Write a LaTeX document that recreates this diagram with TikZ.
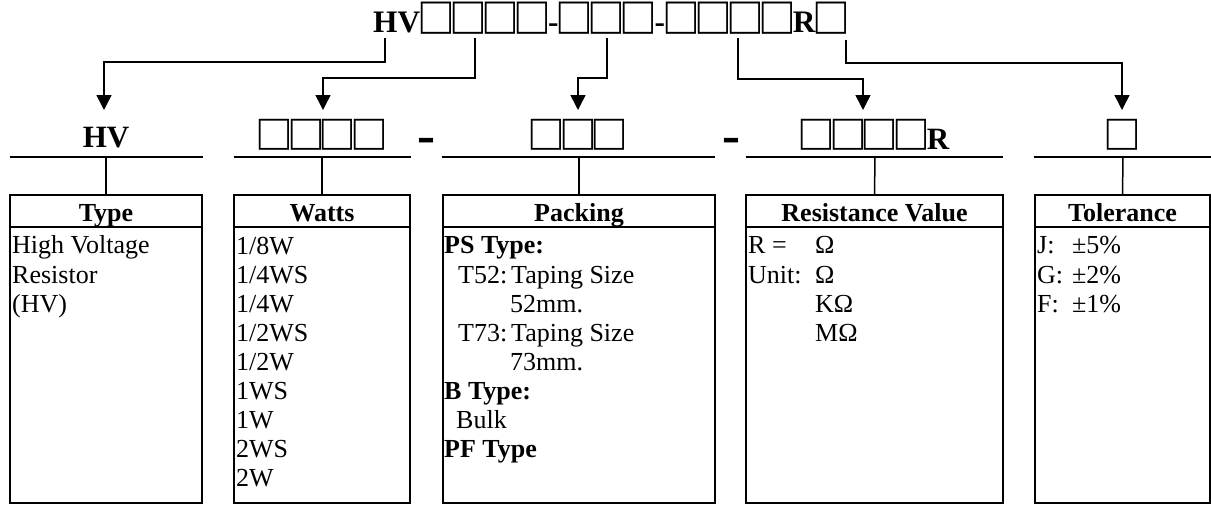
\documentclass[tikz,border=0pt]{standalone}
\usepackage{fontspec}
\setmainfont{Liberation Serif}
\newfontfamily\cjk{Noto Sans CJK SC}
\newfontfamily\dvs{DejaVu Sans}
\usetikzlibrary{arrows.meta}
\newcommand\sqg{\makebox[32pt]{\raisebox{-1pt}{\scalebox{1.18}[1.26]{\fontsize{32}{32}\selectfont\cjk □}}}}
\newcommand\sqgs{\makebox[31.5pt]{\scalebox{1.18}[1.21]{\fontsize{32}{32}\selectfont\cjk □}}}
\tikzset{
  conn/.style={line width=1.5pt,-{Triangle[width=15pt,length=15pt]}},
  stub/.style={line width=1.5pt},
  rule/.style={line width=2pt},
  hdr/.style={draw,line width=2pt,outer sep=0pt,inner sep=0pt,minimum height=32pt,
    text height=24pt,text depth=4pt,font=\fontsize{26}{29}\selectfont\bfseries},
  bodybox/.style={draw,line width=2pt,outer sep=0pt,inner sep=0pt,minimum height=276pt,anchor=north},
  txt/.style={inner sep=0pt,anchor=base west,font=\fontsize{26}{29}\selectfont},
  lab/.style={inner sep=0pt,anchor=base,font=\fontsize{31}{34}\selectfont\bfseries},
  dashlab/.style={inner sep=0pt,anchor=base,font=\fontsize{36}{36}\selectfont\dvs\bfseries},
}
\begin{document}
\begin{tikzpicture}[x=1pt,y=-1pt]
\useasboundingbox (0,0) rectangle (1211,504);
% title
\node[inner sep=0pt,anchor=base west,font=\fontsize{31.3}{34}\selectfont\bfseries] (title) at (373,32)
  {HV\sqg\sqg\sqg\sqg-\sqg\sqg\sqg-\sqg\sqg\sqg\sqg R\sqg};
% connector starts
\coordinate (c1) at (385,38);
\coordinate (c2) at (475,38);
\coordinate (c3) at (607,38);
\coordinate (c4) at (738,38);
\coordinate (c5) at (846,40);
% arrow tips
\coordinate (t1) at (104,110);
\coordinate (t2) at (323,110);
\coordinate (t3) at (578,110);
\coordinate (t4) at (863,110);
\coordinate (t5) at (1122,110);
\draw[conn] (c1) -- ++(0,24) -| (t1);
\draw[conn] (c2) -- ++(0,40) -| (t2);
\draw[conn] (c3) -- ++(0,40) -| (t3);
\draw[conn] (c4) -- ++(0,41) -| (t4);
\draw[conn] (c5) -- ++(0,23) -| (t5);
% second row labels
\node[lab] (l1) at (106,147) {HV};
\node[lab] (l2) at (322,149) {\sqgs\sqgs\sqgs\sqgs};
\node[dashlab] (d1) at (426,150) {–};
\node[lab] (l3) at (578,149) {\sqgs\sqgs\sqgs};
\node[dashlab] (d2) at (731,150) {–};
\node[lab] (l4) at (875,149) {\sqgs\sqgs\sqgs\sqgs R};
\node[lab] (l5) at (1122,149) {\sqgs};
% rules
\draw[rule] (10,157) coordinate (r1a) -- (203,157) coordinate (r1b);
\draw[rule] (234,157) coordinate (r2a) -- (411,157) coordinate (r2b);
\draw[rule] (442,157) coordinate (r3a) -- (715,157) coordinate (r3b);
\draw[rule] (746,157) coordinate (r4a) -- (1003,157) coordinate (r4b);
\draw[rule] (1034,157) coordinate (r5a) -- (1211,157) coordinate (r5b);
% headers
\node[hdr,minimum width=192pt] (h1) at (106,211) {Type};
\node[hdr,minimum width=176pt] (h2) at (322,211) {Watts};
\node[hdr,minimum width=272pt] (h3) at (579,211) {Packing};
\node[hdr,minimum width=257pt] (h4) at (874.5,211) {Resistance Value};
\node[hdr,minimum width=175pt] (h5) at (1122.5,211) {Tolerance};
\node[bodybox,minimum width=192pt] (bd1) at (h1.south) {};
\node[bodybox,minimum width=176pt] (bd2) at (h2.south) {};
\node[bodybox,minimum width=272pt] (bd3) at (h3.south) {};
\node[bodybox,minimum width=257pt] (bd4) at (h4.south) {};
\node[bodybox,minimum width=175pt] (bd5) at (h5.south) {};
\draw[stub] (106,157) -- (h1.north);
\draw[stub] (322,157) -- (h2.north);
\draw[stub] (579,157) -- (h3.north);
\draw[stub] (875,157) -- (h4.north);
\draw[stub] (1123,157) -- (h5.north);
% type
\node[txt] (a1) at (12,253) {High Voltage};
\node[txt] (a2) at (12,283) {Resistor};
\node[txt] (a3) at (12,312) {(HV)};
% watts
\foreach \w [count=\k from 0] in {1/8W,1/4WS,1/4W,1/2WS,1/2W,1WS,1W,2WS,2W}{
  \node[txt] (w\k) at (236,254+29*\k) {\w};
}
% packing
\node[txt] (p1) at (444,253) {\bfseries PS Type:};
\node[txt] (p2) at (458,283) {T52:};
\node[txt] (p3) at (511,283) {Taping Size};
\node[txt] (p4) at (510,312) {52mm.};
\node[txt] (p5) at (458,341) {T73:};
\node[txt] (p6) at (511,341) {Taping Size};
\node[txt] (p7) at (510,370) {73mm.};
\node[txt] (p8) at (444,399) {\bfseries B Type:};
\node[txt] (p9) at (456,428) {Bulk};
\node[txt] (p10) at (444,457) {\bfseries PF Type};
% resistance
\node[txt] (r1) at (748,253) {R =};
\node[txt] (r2) at (815,253) {Ω};
\node[txt] (r3) at (748,283) {Unit:};
\node[txt] (r4) at (815,283) {Ω};
\node[txt] (r5) at (815,312) {KΩ};
\node[txt] (r6) at (815,341) {MΩ};
% tolerance
\node[txt] (o1) at (1037,253) {J:};
\node[txt] (o2) at (1072,253) {±5\%};
\node[txt] (o3) at (1037,283) {G:};
\node[txt] (o4) at (1072,283) {±2\%};
\node[txt] (o5) at (1037,312) {F:};
\node[txt] (o6) at (1072,312) {±1\%};
\end{tikzpicture}
\end{document}
